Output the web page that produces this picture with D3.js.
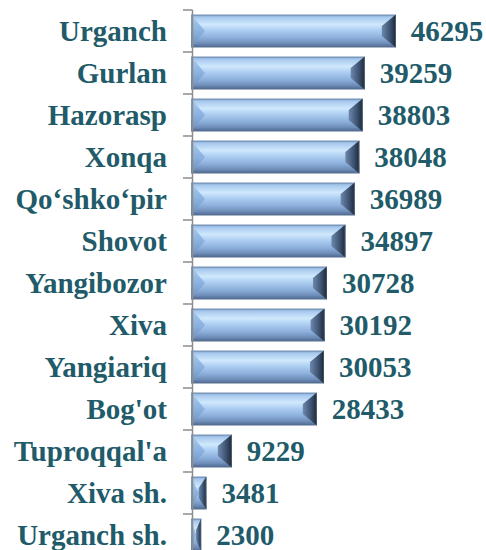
<!DOCTYPE html>
<html><head><meta charset="utf-8">
<script src="https://cdn.jsdelivr.net/npm/d3@7"></script>
<style>html,body{margin:0;padding:0;background:#fff;}svg{display:block;}</style>
</head><body>
<svg id="chart" width="486" height="550"></svg>
<script>
const categories = ["Urganch","Gurlan","Hazorasp","Xonqa","Qo‘shko‘pir","Shovot","Yangibozor","Xiva","Yangiariq","Bog'ot","Tuproqqal'a","Xiva sh.","Urganch sh."];
const values = [46295,39259,38803,38048,36989,34897,30728,30192,30053,28433,9229,3481,2300];
const xDomain = [0, 50000];

const svg = d3.select("#chart");
const textColor = "#215B69";
const font = "'Liberation Serif','Times New Roman',serif";

const x = d3.scaleLinear().domain(xDomain).range([191, 412.25]);
const y = d3.scaleBand().domain(categories).range([10, 556]).paddingInner(0.22).paddingOuter(0.11);

const defs = svg.append("defs");
function grad(id, stops, vertical=true){
  const g = defs.append("linearGradient").attr("id", id)
    .attr("x1",0).attr("y1",0).attr("x2", vertical?0:1).attr("y2", vertical?1:0);
  stops.forEach(([o,c]) => g.append("stop").attr("offset",o).attr("stop-color",c));
}
grad("body", [[0,"#7C9CC6"],[0.08,"#A7C8EE"],[0.3,"#CFE8FC"],[0.45,"#B2D2F4"],[0.7,"#8DB0DC"],[0.88,"#6D8DB8"],[1,"#4B6489"]]);
grad("leftB", [[0,"#A9CBF1"],[0.5,"#8CB2E0"],[1,"#6A8DBA"]]);
grad("rightB", [[0,"#6C87AD"],[0.6,"#3D526F"],[1,"#1C2838"]], false);

const axisX = 192.5;
const bars = svg.append("g").selectAll("g").data(categories).join("g");
bars.each(function(c, i){
  const g = d3.select(this);
  const x0 = x(0), x1 = x(values[i]);
  const y0 = y(c), h = y.bandwidth(), y1 = y0 + h;
  const w = x1 - x0;
  const b = Math.min(14, w/2);
  g.append("rect").attr("x",x0).attr("y",y0).attr("width",w).attr("height",h).attr("fill","url(#body)");
  g.append("polygon").attr("points",[[x0,y0],[x0+b,y0+h/2],[x0,y1]].join(" ")).attr("fill","url(#leftB)");
  g.append("polygon").attr("points",[[x1,y0],[x1-b,y0+h*0.35],[x1-b,y1-h*0.35],[x1,y1]].join(" ")).attr("fill","url(#rightB)");
  g.append("rect").attr("x",x0+0.5).attr("y",y0+0.5).attr("width",Math.max(0,w-1)).attr("height",h-1)
    .attr("fill","none").attr("stroke","#5F7896").attr("stroke-width",0.8).attr("stroke-opacity",0.6);
});

// axis line and ticks
const tickYs = categories.map(c => y(c) - y.step()*y.paddingInner()/2).concat([y.range()[1]]);
const ax = svg.append("g").attr("stroke","#8C8C8C").attr("stroke-width",1.5);
ax.append("line").attr("x1",axisX).attr("x2",axisX).attr("y1",tickYs[0]).attr("y2",550);
ax.selectAll("line.t").data(tickYs).join("line").attr("class","t")
  .attr("x1",183).attr("x2",axisX).attr("y1",d=>d).attr("y2",d=>d);

// category labels
svg.append("g").selectAll("text").data(categories).join("text")
  .attr("x",167).attr("y",c => y(c) + y.bandwidth()/2 + 10)
  .attr("text-anchor","end").attr("font-family",font).attr("font-weight","bold")
  .attr("font-size",29).attr("fill",textColor).text(c=>c);

// value labels
svg.append("g").selectAll("text").data(categories).join("text")
  .attr("x",(c,i)=> x(values[i]) + 15).attr("y",c => y(c) + y.bandwidth()/2 + 10)
  .attr("text-anchor","start").attr("font-family",font).attr("font-weight","bold")
  .attr("font-size",29).attr("fill",textColor).text((c,i)=>values[i]);
</script>
</body></html>
